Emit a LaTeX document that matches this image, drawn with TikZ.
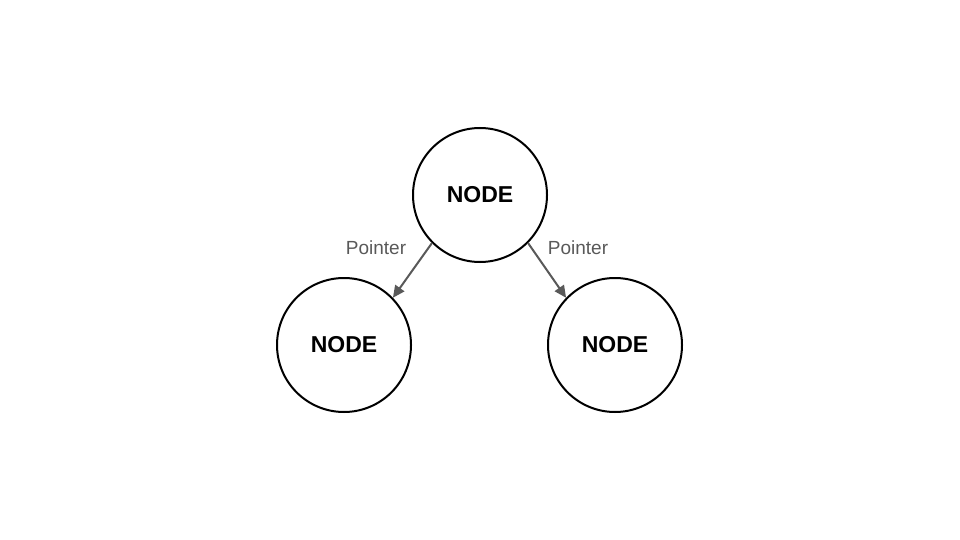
\documentclass[tikz,border=0pt]{standalone}
\usepackage{fontspec}
\setmainfont{Liberation Sans}
\usetikzlibrary{arrows.meta}
\definecolor{ptrgray}{HTML}{595959}
\begin{document}
\begin{tikzpicture}[x=1pt,y=-1pt,
  treenode/.style={circle,draw=black,line width=2pt,minimum size=134pt,inner sep=0pt,
    font=\fontsize{23}{26}\selectfont\bfseries},
  pointer/.style={draw=ptrgray,line width=2pt,-{Triangle[length=12pt,width=11pt]}},
  ptrlabel/.style={text=ptrgray,font=\fontsize{19}{22}\selectfont,inner sep=0pt}]
\useasboundingbox (0,0) rectangle (960,540);
\node[treenode] (top) at (480,195) {NODE};
\node[treenode] (left) at (344,345) {NODE};
\node[treenode] (right) at (615,345) {NODE};
\draw[pointer] (top.225) -- (left.44);
\draw[pointer] (top.315) -- (right.136);
\node[ptrlabel,anchor=base] (l1) at (376,254) {Pointer};
\node[ptrlabel,anchor=base] (l2) at (578,254) {Pointer};
\end{tikzpicture}
\end{document}
